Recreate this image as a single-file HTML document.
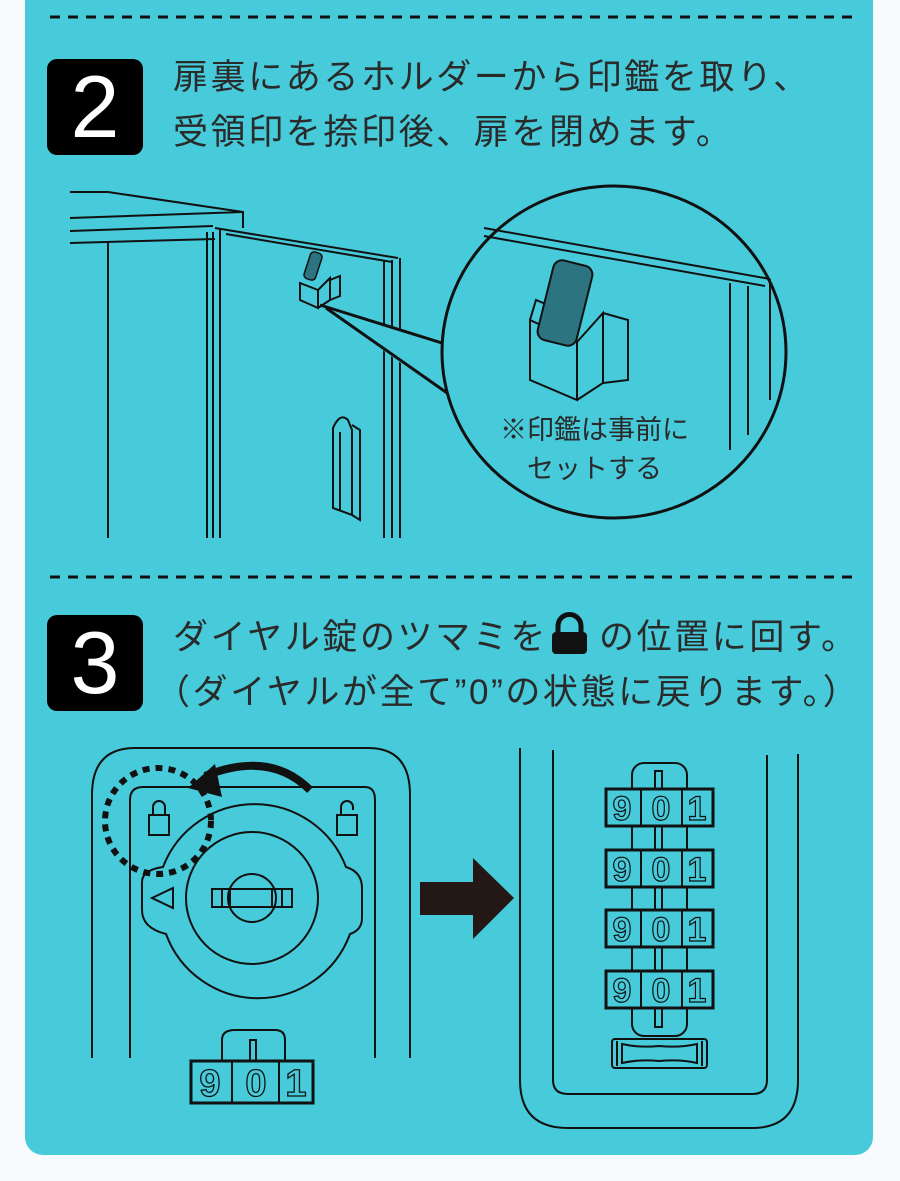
<!DOCTYPE html>
<html><head><meta charset="utf-8"><style>
html,body{margin:0;padding:0;background:#f8fbfe;}
body{width:900px;height:1181px;position:relative;overflow:hidden;font-family:"Liberation Sans","Noto Sans CJK JP",sans-serif;}
.panel{position:absolute;left:25px;top:0;width:848px;height:1155px;background:#47cad9;border-radius:0 0 18px 18px;}
.t{position:absolute;color:#2a2a2a;font-size:35px;letter-spacing:2.6px;white-space:nowrap;line-height:1;}
.badge{position:absolute;left:47px;width:96px;height:96px;background:#000;border-radius:10px;color:#fff;font-size:88px;text-align:center;line-height:96px;font-family:"Liberation Sans","Noto Sans CJK JP",sans-serif;}
svg{position:absolute;left:0;top:0;}
.s{position:absolute;color:#2a2a2a;font-size:27px;white-space:nowrap;line-height:1;}
</style></head><body>
<div class="panel"></div>
<svg width="900" height="1181" viewBox="0 0 900 1181">
<g stroke="#111" stroke-width="3" stroke-dasharray="10 8">
<line x1="50" y1="17" x2="858" y2="17"/><line x1="50" y1="577" x2="858" y2="577"/>
</g>
<g fill="none" stroke="#111" stroke-width="2">
<polyline points="70,192 108,192 243,212 243,228"/>
<line x1="70" y1="218" x2="243" y2="212"/>
<line x1="70" y1="231" x2="213" y2="226"/>
<line x1="70" y1="243" x2="215" y2="239"/>
<line x1="108" y1="243" x2="108" y2="538"/>
<line x1="207" y1="232" x2="207" y2="538"/>
<line x1="213" y1="232" x2="213" y2="538"/>
<line x1="220" y1="228" x2="220" y2="538"/>
<line x1="215" y1="228" x2="398" y2="258"/>
<line x1="226" y1="234" x2="392" y2="262"/>
<line x1="384" y1="260" x2="384" y2="538"/>
<line x1="392" y1="260" x2="392" y2="538"/>
<line x1="400" y1="258" x2="400" y2="538"/>
<path d="M333,508 L333,428 Q340,412 348,420 L352,430 L352,515 Z"/>
<path d="M340,510 L340,432 M352,515 L360,520 L360,430 L352,425"/>
<path d="M300,283 L318,290 L318,308 L300,300 Z"/>
<path d="M318,290 L330,278 L330,300 L318,308"/>
<path d="M330,280 L340,276 L340,296 L330,300"/>
</g>
<rect x="307" y="252" width="12" height="28" rx="4" fill="#2b7480" stroke="#111" stroke-width="1.5" transform="rotate(18 313 266)"/>
<polygon points="320,305 440,340 452,400" fill="#47cad9"/>
<line x1="320" y1="305" x2="442" y2="343" stroke="#111" stroke-width="3"/>
<line x1="326" y1="308" x2="450" y2="395" stroke="#111" stroke-width="3"/>
<ellipse cx="614" cy="352" rx="172" ry="166" fill="#47cad9" stroke="#111" stroke-width="3"/>
<g fill="none" stroke="#111" stroke-width="2">
<line x1="484" y1="228" x2="770" y2="279"/>
<line x1="484" y1="236" x2="765" y2="286"/>
<line x1="730" y1="283" x2="730" y2="450"/>
<line x1="748" y1="286" x2="748" y2="435"/>
<line x1="770" y1="279" x2="770" y2="400"/>
<path d="M530,320 L577,342 L577,400 L530,380 Z"/>
<path d="M577,342 L603,313 L603,383 L577,400"/>
<path d="M603,313 L628,320 L628,380 L603,383"/>
<path d="M530,320 L536,300 L548,305"/>
</g>
<rect x="545" y="262" width="40" height="82" rx="9" fill="#2b7480" stroke="#111" stroke-width="2" transform="rotate(14 565 303)"/>
<g fill="none" stroke="#111" stroke-width="2">
<path d="M92,1058 L92,795 Q92,748 135,748 L368,748 Q410,748 410,795 L410,1058"/>
<path d="M130,1058 L130,800 Q130,787 143,787 L365,787 Q375,787 375,800 L375,1058"/>
<path d="M163,867 A98,98 0 0 1 346,867 Q362,872 362,888 L362,918 Q362,930 350,934 A98,98 0 0 1 166,934 Q142,928 142,910 L142,882 Q142,870 163,867 Z"/>
<circle cx="252" cy="898" r="66"/>
<circle cx="252" cy="898" r="24"/>
<rect x="212" y="889" width="80" height="18"/>
<line x1="222" y1="889" x2="222" y2="907"/><line x1="230" y1="889" x2="230" y2="907"/>
<line x1="272" y1="889" x2="272" y2="907"/><line x1="282" y1="889" x2="282" y2="907"/>
<polygon points="152,898 173,888 173,908"/>
<rect x="149" y="815" width="20" height="20"/><path d="M153,815 L153,807 A6,6 0 0 1 165,807 L165,815"/>
<rect x="337" y="815" width="20" height="20"/><path d="M341,815 L341,807 A6,6 0 0 1 353,807 L353,810"/>
<path d="M222,1061 L222,1040 Q222,1030 235,1030 L275,1030 Q285,1030 285,1040 L285,1061"/>
<rect x="250" y="1040" width="6" height="21"/>
</g>
<circle cx="158" cy="821" r="53" fill="none" stroke="#111" stroke-width="6" stroke-dasharray="7 6"/>
<path d="M310,790 Q270,750 205,776" fill="none" stroke="#111" stroke-width="8"/>
<polygon points="188,788 215,764 222,797" fill="#111"/>
<rect x="191" y="1061" width="122" height="42" fill="none" stroke="#111" stroke-width="3"/>
<line x1="232" y1="1061" x2="232" y2="1103" stroke="#111" stroke-width="2"/>
<line x1="279" y1="1061" x2="279" y2="1103" stroke="#111" stroke-width="2"/>
<g font-family="Liberation Sans,sans-serif" font-weight="bold" font-size="38" fill="none" stroke="#111" stroke-width="1.3" text-anchor="middle">
<text x="210" y="1096">9</text><text x="256" y="1096">0</text><text x="296" y="1096">1</text>
</g>
<rect x="420" y="882" width="55" height="33" fill="#231815"/>
<polygon points="473,858 514,898 473,939" fill="#231815"/>
<g fill="none" stroke="#111" stroke-width="2">
<path d="M520,748 L520,1080 Q520,1128 568,1128 L752,1128 Q798,1128 798,1080 L798,754"/>
<path d="M553,750 L553,1080 Q553,1094 568,1094 L752,1094 Q767,1094 767,1080 L767,755"/>
<rect x="632" y="763" width="55" height="273" rx="12"/>
<rect x="655" y="771" width="7" height="256"/>
<rect x="612" y="1039" width="95" height="29" rx="3"/>
<path d="M622,1044 Q640,1048 659,1046 Q680,1048 697,1044 L697,1063 Q680,1059 659,1061 Q640,1059 622,1063 Z"/>
<line x1="617" y1="1041" x2="617" y2="1066"/><line x1="702" y1="1041" x2="702" y2="1066"/>
</g>
<g id="d">
<rect x="606" y="789" width="107" height="37" fill="#47cad9" stroke="#111" stroke-width="3"/>
<line x1="641" y1="789" x2="641" y2="826" stroke="#111" stroke-width="2"/>
<line x1="682" y1="789" x2="682" y2="826" stroke="#111" stroke-width="2"/>
<g font-family="Liberation Sans,sans-serif" font-weight="bold" font-size="34" fill="none" stroke="#111" stroke-width="1.2" text-anchor="middle">
<text x="622" y="820">9</text><text x="661" y="820">0</text><text x="697" y="820">1</text>
</g>
</g>
<use href="#d" y="61"/><use href="#d" y="121"/><use href="#d" y="182"/>
<rect x="552" y="632" width="35" height="22" rx="4" fill="#111"/>
<path d="M558,633 L558,626 A11.5,11.5 0 0 1 581,626 L581,633" fill="none" stroke="#111" stroke-width="5"/>
</svg>
<div class="badge" style="top:59px;">2</div>
<div class="badge" style="top:615px;">3</div>
<div class="t" style="left:173px;top:60px;">扉裏にあるホルダーから印鑑を取り、</div>
<div class="t" style="left:173px;top:115px;">受領印を捺印後、扉を閉めます。</div>
<div class="t" style="left:173px;top:620px;">ダイヤル錠のツマミを</div>
<div class="t" style="left:599px;top:620px;">の位置に回す。</div>
<div class="t" style="left:155px;top:675px;">（ダイヤルが全て”0”の状態に戻ります。）</div>
<div class="s" style="left:500px;top:417px;">※印鑑は事前に</div>
<div class="s" style="left:527px;top:456px;">セットする</div>
</body></html>
